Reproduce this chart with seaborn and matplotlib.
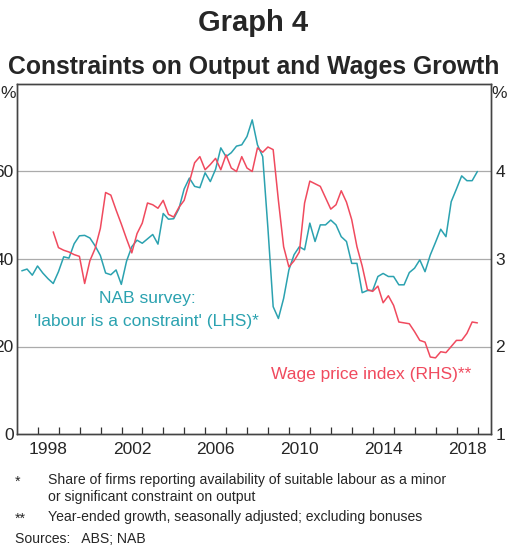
import numpy as np
import pandas as pd
import matplotlib
matplotlib.use("Agg")
import matplotlib.pyplot as plt
import seaborn as sns

# ---- data (quarterly, 1997 Q1 - 2018 Q4) ----
start_year = 1997
nab_start_q = 0
nab = [37.3, 37.7, 36.3, 38.4, 36.8, 35.5, 34.4, 37.1, 40.5, 40.2,
       43.5, 45.3, 45.4, 44.8, 43.0, 40.8, 36.8, 36.4, 37.5, 34.2,
       39.5, 42.8, 44.3, 43.6, 44.6, 45.6, 43.4, 50.4, 49.1, 49.2,
       51.5, 56.0, 58.5, 56.6, 56.3, 59.7, 57.7, 60.5, 65.4, 63.4,
       64.3, 65.8, 66.1, 68.0, 71.8, 66.1, 63.4, 47.0, 29.1, 26.4,
       31.0, 37.5, 41.0, 42.8, 42.1, 48.2, 44.0, 47.8, 47.8, 48.9,
       47.8, 45.1, 44.0, 39.0, 39.0, 32.3, 32.8, 32.8, 36.0, 36.7,
       36.0, 36.0, 34.1, 34.1, 36.9, 37.9, 39.8, 37.1, 40.9, 43.8,
       46.8, 45.1, 53.1, 56.0, 59.0, 57.9, 57.9, 60.0]
wpi_start_q = 6
wpi = [3.31, 3.13, 3.10, 3.08, 3.05, 3.03, 2.72, 2.98, 3.12, 3.35,
       3.76, 3.73, 3.56, 3.40, 3.23, 3.07, 3.29, 3.41, 3.64, 3.62,
       3.58, 3.67, 3.51, 3.48, 3.59, 3.67, 3.88, 4.10, 4.17, 4.02,
       4.08, 4.15, 4.02, 4.19, 4.04, 4.00, 4.17, 4.04, 4.00, 4.27,
       4.22, 4.28, 4.25, 3.67, 3.14, 2.91, 2.98, 3.08, 3.64, 3.89,
       3.86, 3.83, 3.70, 3.57, 3.62, 3.78, 3.65, 3.45, 3.14, 2.92,
       2.65, 2.63, 2.69, 2.50, 2.58, 2.47, 2.28, 2.27, 2.26, 2.17,
       2.07, 2.05, 1.88, 1.87, 1.94, 1.93, 2.00, 2.07, 2.07, 2.15,
       2.28, 2.27]
year_labels = ["1998", "2002", "2006", "2010", "2014", "2018"]
lhs_ticks = [0, 20, 40, 60]
rhs_ticks = [1, 2, 3, 4]


def qpos(start_q, n):
    # quarter-end months plotted as fractional years
    return start_year + 0.24 + 0.25 * (start_q + np.arange(n))


df_nab = pd.DataFrame({"t": qpos(nab_start_q, len(nab)), "v": nab})
df_wpi = pd.DataFrame({"t": qpos(wpi_start_q, len(wpi)), "v": wpi})

TEAL = "#2ba2b0"
RED = "#f04a5e"
FONT = "Liberation Sans"

sns.set_style("white")
plt.rcParams["font.family"] = [FONT, "DejaVu Sans"]

fig = plt.figure(figsize=(5.07, 5.48), dpi=100)
W, H = 507, 548
left, right, top, bottom = 17, 491, 84, 434
ax = fig.add_axes([left / W, 1 - bottom / H, (right - left) / W, (bottom - top) / H])
ax2 = ax.twinx()

for y in [20, 40, 60]:
    ax.axhline(y, color="#ababab", lw=0.9, zorder=0)

sns.lineplot(data=df_nab, x="t", y="v", ax=ax, color=TEAL, lw=1.1, zorder=3)
sns.lineplot(data=df_wpi, x="t", y="v", ax=ax2, color=RED, lw=1.1, zorder=3)

ax.set_xlim(1997.01, 2019.64)
ax.set_ylim(0, 80)
ax2.set_ylim(1, 5)
ax.set_xlabel("")
ax.set_ylabel("")
ax2.set_ylabel("")

# x ticks: year marks inside, labels at mid-year
ax.set_xticks(np.arange(1998, 2020))
ax.set_xticklabels([])
ax.tick_params(axis="x", which="major", direction="in", length=5, width=0.9,
               color="#333333", bottom=True, top=False)
ax.set_xticks([int(y) + 0.5 for y in year_labels], minor=True)
ax.set_xticklabels(year_labels, minor=True)
ax.tick_params(axis="x", which="minor", length=0, pad=6, labelsize=12.5)

ax.set_yticks(lhs_ticks)
ax.set_yticklabels([str(v) for v in lhs_ticks])
ax.tick_params(axis="y", length=0, pad=2.5, labelsize=12.5)
ax2.set_yticks(rhs_ticks)
ax2.set_yticklabels([str(v) for v in rhs_ticks])
ax2.tick_params(axis="y", length=0, pad=3, labelsize=12.5)

for a in (ax, ax2):
    for s in a.spines.values():
        s.set_color("#444444")
        s.set_linewidth(1.0)

# % labels
fig.text(0 / W, 1 - 93 / H, "%", fontsize=12.5, ha="left", va="center")
fig.text(507 / W, 1 - 93 / H, "%", fontsize=12.5, ha="right", va="center")

# titles
fig.text(0.5, 1 - 23 / H, "Graph 4", fontsize=21, fontweight="bold",
         ha="center", va="center")
fig.text(0.5, 1 - 67 / H, "Constraints on Output and Wages Growth", fontsize=17.8,
         fontweight="bold", ha="center", va="center")

# series labels
ax.text(2003.24, 30.9, "NAB survey:", color=TEAL, fontsize=12.5, ha="center", va="center")
ax.text(2003.17, 25.8, "'labour is a constraint' (LHS)*", color=TEAL, fontsize=12.5,
        ha="center", va="center")
ax.text(2013.92, 13.5, "Wage price index (RHS)**", color=RED, fontsize=12.5,
        ha="center", va="center")

# footnotes
fs = 10.1
fig.text(15 / W, 1 - 482 / H, "*", fontsize=fs, ha="left", va="center")
fig.text(48 / W, 1 - 480 / H, "Share of firms reporting availability of suitable labour as a minor",
         fontsize=fs, ha="left", va="center")
fig.text(48 / W, 1 - 497 / H, "or significant constraint on output", fontsize=fs,
         ha="left", va="center")
fig.text(15 / W, 1 - 519 / H, "**", fontsize=fs, ha="left", va="center")
fig.text(48 / W, 1 - 517 / H, "Year-ended growth, seasonally adjusted; excluding bonuses",
         fontsize=fs, ha="left", va="center")
fig.text(15 / W, 1 - 539 / H, "Sources:   ABS; NAB", fontsize=fs, ha="left", va="center")

fig.savefig("out.png", dpi=100)
